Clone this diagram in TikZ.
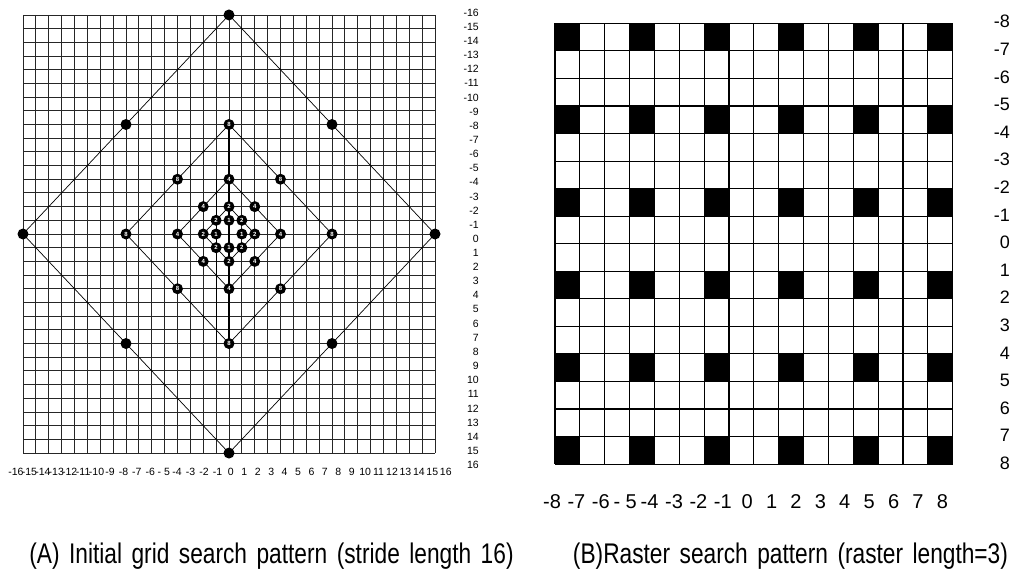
\documentclass[tikz,border=0pt]{standalone}
\usepackage{fontspec}
\setmainfont{Liberation Sans}
\newfontfamily\capfont[FakeStretch=0.8, WordSpace=1.5]{Liberation Sans}
\usetikzlibrary{backgrounds}

\begin{document}
\begin{tikzpicture}[x=1pt, y=-1pt,
    dot/.style={circle, fill=black, inner sep=0pt, minimum size=11pt, text=white, font=\fontsize{6}{6}\selectfont\bfseries},
    gridline/.style={line width=0.9pt, black!85},
    rastline/.style={line width=1.1pt, black},
    diag/.style={line width=0.7pt},
    axlbl/.style={font=\fontsize{10.5}{11}\selectfont, inner sep=0pt},
    biglbl/.style={font=\fontsize{18}{18}\selectfont, inner sep=0pt},
    botlbl/.style={font=\fontsize{20}{20}\selectfont, inner sep=0pt},
    captext/.style={font=\capfont\fontsize{28.4}{30}\selectfont, inner sep=0pt}
]
\useasboundingbox (0,0) rectangle (1013,579);

% (A) grid search, stride 16
\begin{scope}[shift={(229,234)}, x=12.875pt, y=-13.69pt]
  \begin{scope}[on background layer]
    \foreach \i in {-16,...,16} {
      \draw[gridline] (\i,-16) -- (\i,16);
      \draw[gridline] (-16,\i) -- (16,\i);
    }
    \draw[line width=1.2pt] (0,-8) -- (0,8);
    \draw[line width=1.2pt] (-1,-4) -- (-1,8);
  \end{scope}
  % search points
  \foreach \s/\t in {16/,8/8,4/4,2/2} {
    \pgfmathtruncatemacro\h{\s/2}
    \node[dot] (t\s) at (0,-\s) {\t};
    \node[dot] (l\s) at (-\s,0) {\t};
    \node[dot] (b\s) at (0,\s) {\t};
    \node[dot] (r\s) at (\s,0) {\t};
    \node[dot] (tl\s) at (-\h,-\h) {\t};
    \node[dot] (tr\s) at (\h,-\h) {\t};
    \node[dot] (bl\s) at (-\h,\h) {\t};
    \node[dot] (br\s) at (\h,\h) {\t};
  }
  \node[dot] (t1) at (0,-1) {1};
  \node[dot] (l1) at (-1,0) {1};
  \node[dot] (b1) at (0,1) {1};
  \node[dot] (r1) at (1,0) {1};
  \begin{scope}[on background layer]
    \foreach \s in {16,8,4,2}
      \draw[diag] (t\s.center) -- (l\s.center) -- (b\s.center) -- (r\s.center) -- cycle;
  \end{scope}
\end{scope}

% axis labels (A)
\foreach \k in {-16,...,16}
  \node[axlbl, anchor=east] (ya\k) at (479, {12.7+14.13*(\k+16)}) {\k};
\foreach \t [count=\n from 0] in {-16,-15,-14,-13,-12,-11,-10,-9,-8,-7,-6,- 5,-4,-3,-2,-1,0,1,2,3,4,5,6,7,8,9,10,11,12,13,14,15,16}
  \node[axlbl] (xa\n) at ({16+13.43*\n}, 472) {\t};

% (B) raster search, raster length 3
\begin{scope}[shift={(555,23.3)}, x=24.86pt, y=-27.55pt]
  \foreach \i in {0,3,...,15}
    \foreach \j in {0,3,...,15}
      \fill (\i,\j) rectangle ++(1,1);
  \foreach \i in {0,...,16} {
    \draw[rastline] (\i,0) -- (\i,16);
    \draw[rastline] (0,\i) -- (16,\i);
  }
\end{scope}

% axis labels (B)
\foreach \k in {-8,...,8}
  \node[biglbl, anchor=east] (yb\k) at (1010, {21.7+27.6*(\k+8)}) {\k};
\foreach \t [count=\n from 0] in {-8,-7,-6,- 5,-4,-3,-2,-1,0,1,2,3,4,5,6,7,8}
  \node[botlbl] (xb\n) at ({552+24.4*\n}, 501.7) {\t};

% captions
\node[captext] (capA) at (271.5,556) {(A) Initial grid search pattern (stride length 16)};
\node[captext] (capB) at (790.5,556) {(B)Raster search pattern (raster length=3)};

\end{tikzpicture}
\end{document}
